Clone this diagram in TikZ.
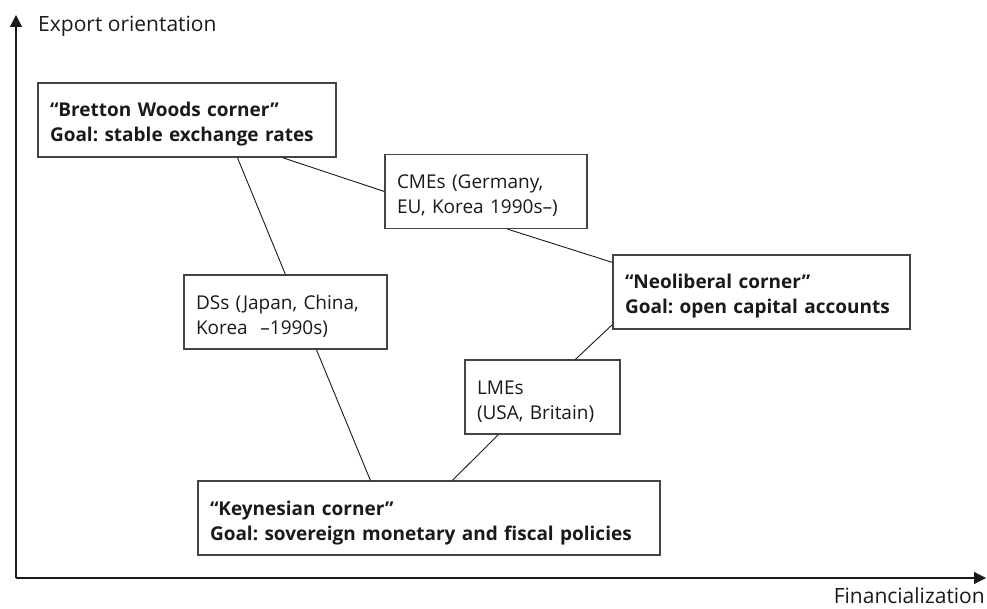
\documentclass[tikz,border=0pt]{standalone}
\usepackage{fontspec}
\setmainfont{Open Sans}
\usetikzlibrary{arrows.meta}
\definecolor{ink}{HTML}{1A1A1A}
\definecolor{frame}{HTML}{444444}
\newcommand{\topstrut}{\rule{0pt}{24pt}}
\newcommand{\botstrut}{\rule[-5pt]{0pt}{5pt}}
\tikzset{
  box/.style={draw=frame, line width=1.2pt, fill=white, inner xsep=12pt, inner ysep=0pt,
    align=left, minimum height=74pt, text=ink, font=\fontsize{19}{25}\selectfont\frenchspacing},
  bbox/.style={box, font=\fontsize{19}{25}\selectfont\bfseries\frenchspacing},
  link/.style={draw=ink, line width=0.9pt},
  axis/.style={draw=ink, line width=1.2pt, -{Triangle[length=12pt,width=12pt]}},
  axlabel/.style={text=ink, inner sep=0pt, font=\fontsize{21}{24}\selectfont}
}
\begin{document}
\begin{tikzpicture}[x=1pt,y=-1pt]
\useasboundingbox (0,0) rectangle (987,609);
% axes
\coordinate (o) at (16,578);
\coordinate (ytip) at (16,15);
\coordinate (xtip) at (986,578);
\draw[axis] (o) -- (ytip);
\draw[axis] (o) -- (xtip);
\node[axlabel, anchor=base west] (ylab) at (38,32) {Export orientation};
\node[axlabel, anchor=base east] (xlab) at (985,603) {Financialization};
% boxes
\node[bbox, text width=274pt] (bw) at (187,120) {\topstrut“Bretton Woods corner”\\Goal: stable exchange rates\botstrut};
\node[box, text width=178pt] (cme) at (486,191.5) {\topstrut CMEs (Germany,\\EU, Korea 1990s–)\botstrut};
\node[box, text width=179pt] (ds) at (285.5,312) {\topstrut DSs (Japan, China,\\Korea\ \ –1990s)\botstrut};
\node[bbox, text width=273pt] (neo) at (761.5,292) {\topstrut“Neoliberal corner”\\Goal: open capital accounts\botstrut};
\node[box, text width=131pt] (lme) at (542.5,397) {\topstrut LMEs\\(USA, Britain)\botstrut};
\node[bbox, text width=438pt] (key) at (429,518) {\topstrut“Keynesian corner”\\Goal: sovereign monetary and fiscal policies\botstrut};
% connectors
\draw[link] ([xshift=245pt]bw.south west) -- (cme.west);
\draw[link] ([xshift=200pt]bw.south west) -- ([xshift=102pt]ds.north west);
\draw[link] ([xshift=123pt]cme.south west) -- ([yshift=-8pt]neo.north west);
\draw[link] ([xshift=133pt]ds.south west) -- ([xshift=173pt]key.north west);
\draw[link] ([xshift=111pt]lme.north west) -- ([yshift=5pt]neo.south west);
\draw[link] ([xshift=34pt]lme.south west) -- ([xshift=255pt]key.north west);
\end{tikzpicture}
\end{document}
